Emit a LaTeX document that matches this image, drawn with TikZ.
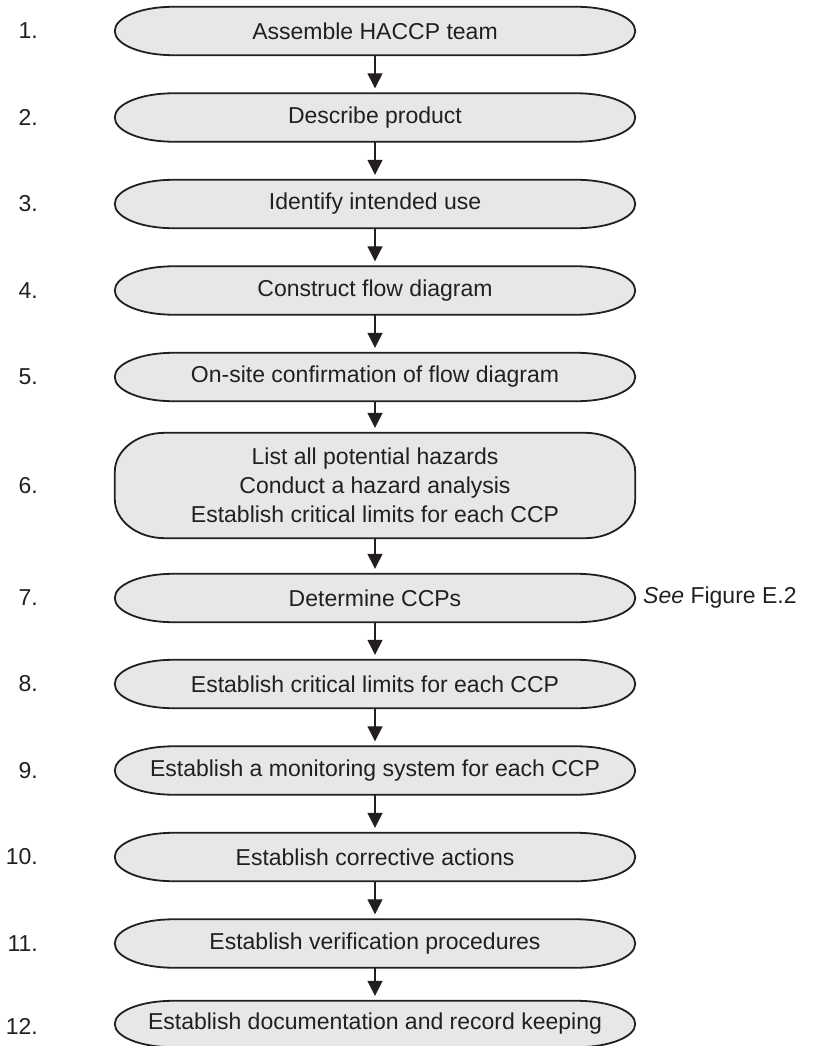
\documentclass[tikz,border=0pt]{standalone}
\usepackage{xcolor}
\usepackage{fontspec}
\setmainfont{Liberation Sans}
\usepackage{tikz}
\usetikzlibrary{arrows.meta,calc,backgrounds}

\definecolor{boxgray}{HTML}{E6E7E8}
\definecolor{inkblack}{HTML}{231F20}

\begin{document}
\begin{tikzpicture}[
    x=1pt, y=1pt,
    every node/.style={font=\fontsize{23}{29}\selectfont, text=inkblack},
    stepbox/.style={rectangle, minimum width=520pt, minimum height=48pt, inner sep=0pt, align=center},
    numlabel/.style={anchor=east, inner sep=0pt},
    boxline/.style={draw=inkblack, line width=1.8pt, fill=boxgray},
    arrow/.style={-{Triangle[length=15pt,width=15pt]}, draw=inkblack, line width=1.3pt, shorten >=5pt}
]
    \useasboundingbox (0,0) rectangle (824,-1046);

    % Steps
    \node[stepbox] (s1) at (375,-31) {Assemble HACCP team};
    \node[stepbox] (s2) at (375,-117.5) {Describe product};
    \node[stepbox] (s3) at (375,-204) {Identify intended use};
    \node[stepbox] (s4) at (375,-290.5) {Construct flow diagram};
    \node[stepbox] (s5) at (375,-377) {On-site confirmation of flow diagram};
    \node[stepbox, minimum height=105pt] (s6) at (375,-485.5) {
        List all potential hazards\\
        Conduct a hazard analysis\\
        Establish critical limits for each CCP
    };
    \node[stepbox] (s7) at (375,-598) {Determine CCPs};
    \node[stepbox] (s8) at (375,-684) {Establish critical limits for each CCP};
    \node[stepbox] (s9) at (375,-770.5) {Establish a monitoring system for each CCP};
    \node[stepbox] (s10) at (375,-857) {Establish corrective actions};
    \node[stepbox] (s11) at (375,-943.5) {Establish verification procedures};
    \node[stepbox, minimum height=46pt] (s12) at (375,-1024) {Establish documentation and record keeping};

    % Step numbers
    \node[numlabel] (n1) at (38,-31) {1.};
    \node[numlabel] (n2) at (38,-117.5) {2.};
    \node[numlabel] (n3) at (38,-204) {3.};
    \node[numlabel] (n4) at (38,-290.5) {4.};
    \node[numlabel] (n5) at (38,-377) {5.};
    \node[numlabel] (n6) at (38,-485.5) {6.};
    \node[numlabel] (n7) at (38,-598) {7.};
    \node[numlabel] (n8) at (38,-684) {8.};
    \node[numlabel] (n9) at (38,-770.5) {9.};
    \node[numlabel] (n10) at (38,-857) {10.};
    \node[numlabel] (n11) at (38,-943.5) {11.};
    \node[numlabel] (n12) at (38,-1026) {12.};

    % Side note
    \node[anchor=west, inner sep=0pt] (note) at (643,-598) {\textit{See} Figure E.2};

    % Box outlines
    \begin{scope}[on background layer]
        \foreach \n/\rx/\ry in {s1/58/24, s2/58/24, s3/58/24, s4/58/24, s5/58/24, s6/50/39,
                                s7/58/24, s8/58/24, s9/58/24, s10/58/24, s11/58/24, s12/58/23} {
            \draw[boxline] ([xshift=\rx pt]\n.north west) -- ([xshift=-\rx pt]\n.north east)
                arc[start angle=90, end angle=0, x radius=\rx, y radius=\ry]
                -- ([yshift=\ry pt]\n.south east)
                arc[start angle=0, end angle=-90, x radius=\rx, y radius=\ry]
                -- ([xshift=\rx pt]\n.south west)
                arc[start angle=270, end angle=180, x radius=\rx, y radius=\ry]
                -- ([yshift=-\ry pt]\n.north west)
                arc[start angle=180, end angle=90, x radius=\rx, y radius=\ry]
                -- cycle;
        }
    \end{scope}

    % Arrows
    \foreach \a/\b in {s1/s2, s2/s3, s3/s4, s4/s5, s5/s6, s6/s7, s7/s8, s8/s9, s9/s10, s10/s11, s11/s12}
        \draw[arrow] (\a) -- (\b);
\end{tikzpicture}
\end{document}
